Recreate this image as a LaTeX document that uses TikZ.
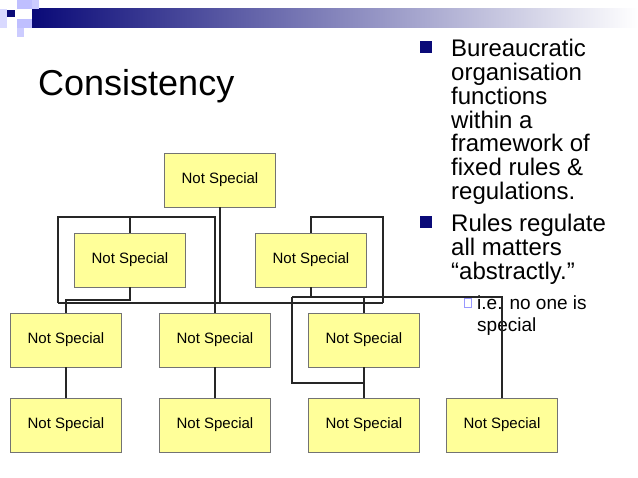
\documentclass[tikz,border=0pt]{standalone}
\usepackage{fontspec}
\setmainfont{Liberation Sans}
\definecolor{navy}{RGB}{10,10,120}
\definecolor{boxfill}{RGB}{255,255,153}
\begin{document}
\begin{tikzpicture}[x=1pt,y=-1pt,
  box/.style={draw=black!55,fill=boxfill,minimum width=111pt,minimum height=54pt,inner sep=0pt,font=\fontsize{15}{15}\selectfont},
  ln/.style={line width=1.6pt,black!85},
  txt/.style={anchor=base west,inner sep=0pt,font=\fontsize{24}{24}\selectfont}]
\useasboundingbox (0,0) rectangle (638,478);
% header
\shade[left color=navy,right color=white] (32,9) rectangle (638,28);
\fill[blue!25!white] (17,0) rectangle (32,9);
\fill[blue!20!white] (32,0) rectangle (39,9);
\fill[blue!15!white] (0,9) rectangle (7,28);
\fill[navy] (7,10) rectangle (15,17);
\fill[blue!25!white] (17,19) rectangle (32,28);
\fill[blue!20!white] (17,28) rectangle (24,37);
% title
\node[txt,font=\fontsize{36}{36}\selectfont] (title) at (38,96) {Consistency};
% bullets
\foreach \y/\t [count=\i] in {57/Bureaucratic,81/organisation,105/functions,129/within a,152/framework of,176/fixed rules \&,200/regulations.,232/Rules regulate,256/all matters,280/“abstractly.”}
  \node[txt] (b\i) at (451,\y) {\t};
\fill[navy] (420,41) rectangle (432,53);
\fill[navy] (420,216) rectangle (432,228);
\draw[blue!40,line width=0.8pt] (464,298) rectangle (471,307);
\node[txt,font=\fontsize{19}{19}\selectfont] (s1) at (477,310) {i.e. no one is};
\node[txt,font=\fontsize{19}{19}\selectfont] (s2) at (477,332) {special};
% nodes
\node[box] (n0) at (220,180) {Not Special};
\node[box] (n1) at (130,260) {Not Special};
\node[box] (n2) at (311,260) {Not Special};
\node[box] (n3) at (66,340) {Not Special};
\node[box] (n4) at (215,340) {Not Special};
\node[box] (n5) at (364,340) {Not Special};
\node[box] (n6) at (66,425) {Not Special};
\node[box] (n7) at (215,425) {Not Special};
\node[box] (n8) at (364,425) {Not Special};
\node[box] (n9) at (502,425) {Not Special};
% connectors
\draw[ln] (n0.south) -- (220,303);
\draw[ln] (58,303) -- (383,303);
\draw[ln] (n1.north) -- (130,217) -- (58,217) -- (58,303);
\draw[ln] (130,217) -- (215,217) -- (215,303);
\draw[ln] (n1.south) -- (130,300) -- (66,300) -- (n3.north);
\draw[ln] (215,303) -- (n4.north);
\draw[ln] (n2.north) -- (311,217) -- (383,217) -- (383,303);
\draw[ln] (n2.south) -- (311,297);
\draw[ln] (292,297) -- (502,297) -- (n9.north);
\draw[ln] (364,297) -- (n5.north);
\draw[ln] (292,297) -- (292,383) -- (364,383) -- (n5.south);
\draw[ln] (364,383) -- (n8.north);
\draw[ln] (n3.south) -- (n6.north);
\draw[ln] (n4.south) -- (n7.north);
\end{tikzpicture}
\end{document}
